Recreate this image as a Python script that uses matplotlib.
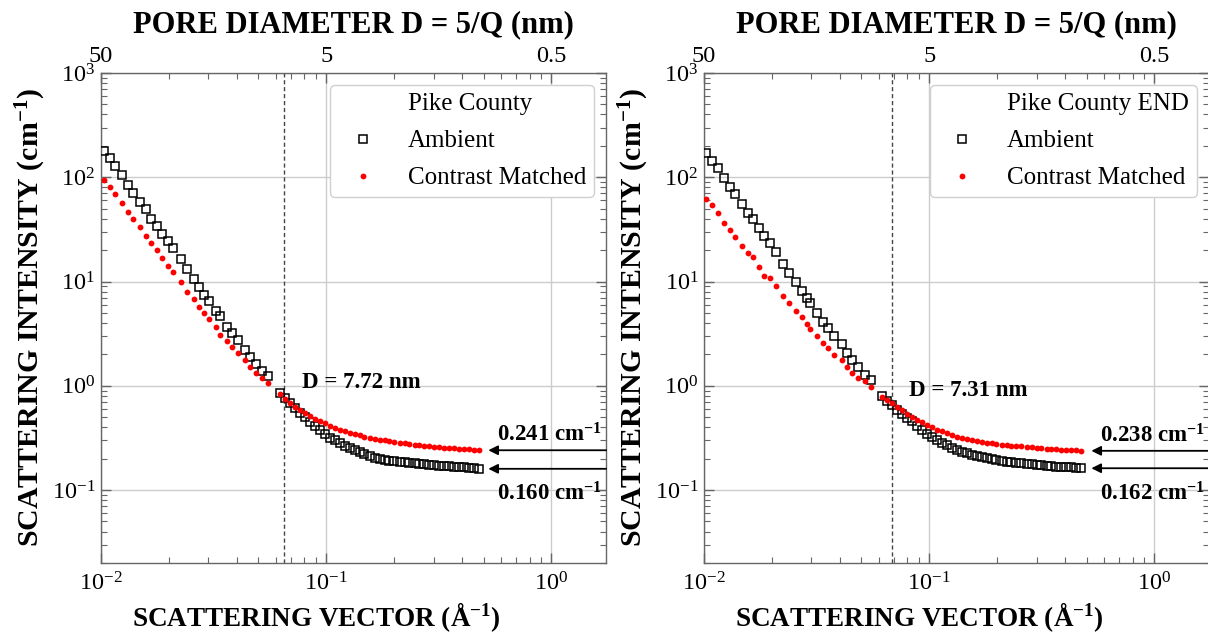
import matplotlib
matplotlib.use("Agg")
import matplotlib.pyplot as plt
from matplotlib.lines import Line2D

plt.rcParams.update({
    "font.family": "Liberation Serif",
    "mathtext.fontset": "custom",
    "mathtext.rm": "Liberation Serif",
    "mathtext.bf": "Liberation Serif:bold",
    "mathtext.it": "Liberation Serif:italic",
})

# ---------------- Pike County ----------------
q_pike = [
    0.01028, 0.0110, 0.01158, 0.0124, 0.01318, 0.01392, 0.01491, 0.0158, 0.01673, 0.01768,
    0.01867, 0.01985, 0.02089, 0.02275, 0.02418, 0.02582, 0.02726, 0.02869, 0.03029, 0.03245,
    0.03381, 0.03622, 0.03809, 0.04051, 0.04365, 0.04596, 0.04886, 0.05178, 0.05506,
    0.0625, 0.0658, 0.0692, 0.0728, 0.0766, 0.0806, 0.0848, 0.0892, 0.0939, 0.0988,
    0.104, 0.109, 0.115, 0.121, 0.127, 0.134, 0.141, 0.148, 0.156, 0.164,
    0.173, 0.182, 0.191, 0.201, 0.212, 0.223, 0.234, 0.247, 0.259, 0.273,
    0.287, 0.302, 0.318, 0.335, 0.352, 0.370, 0.390, 0.410, 0.431, 0.454, 0.478,
]
i_pike_ambient = [
    178.6, 154, 128, 104.5, 83.8, 71.4, 58.0, 49.1, 39.6, 34.2,
    28.5, 24.4, 20.8, 16.3, 13.2, 10.5, 8.92, 7.43, 6.55, 5.26,
    4.68, 3.65, 3.24, 2.76, 2.21, 1.91, 1.62, 1.40, 1.23,
    0.85, 0.76, 0.68, 0.61, 0.55, 0.50, 0.45, 0.41, 0.375, 0.345,
    0.318, 0.300, 0.283, 0.265, 0.252, 0.240, 0.230, 0.220, 0.212, 0.205,
    0.199, 0.195, 0.192, 0.189, 0.187, 0.184, 0.183, 0.181, 0.179, 0.177,
    0.175, 0.174, 0.172, 0.170, 0.169, 0.168, 0.166, 0.165, 0.164, 0.162, 0.160,
]
i_pike_cm = [
    95.1, 80.8, 69.8, 56.8, 46.6, 39.6, 33.0, 27.4, 23.2, 20.0,
    16.7, 14.1, 12.4, 9.96, 7.99, 6.76, 5.74, 4.96, 4.35, 3.65,
    3.08, 2.71, 2.38, 2.06, 1.77, 1.51, 1.34, 1.19, 1.06,
    0.83, 0.74, 0.69, 0.63, 0.59, 0.55, 0.515, 0.485, 0.46, 0.438,
    0.410, 0.395, 0.380, 0.366, 0.355, 0.344, 0.335, 0.326, 0.318, 0.311,
    0.304, 0.299, 0.294, 0.289, 0.285, 0.280, 0.276, 0.272, 0.269, 0.266,
    0.262, 0.260, 0.258, 0.255, 0.253, 0.251, 0.249, 0.248, 0.246, 0.244, 0.241,
]
d_pike = 7.72                    # nm, crossover pore diameter
plateau_pike = (0.241, 0.160)    # contrast matched, ambient (cm^-1)

# ---------------- Pike County END ----------------
q_end = [
    0.01021, 0.01089, 0.0115, 0.01227, 0.01305, 0.01374, 0.01471, 0.01574, 0.01656, 0.0175,
    0.01854, 0.01965, 0.02089, 0.0225, 0.02393, 0.02557, 0.02717, 0.0286, 0.0296, 0.0317,
    0.0339, 0.0357, 0.0379, 0.0409, 0.0431, 0.0456, 0.0485, 0.0519, 0.0552,
    0.0620, 0.0652, 0.0686, 0.0722, 0.0760, 0.0800, 0.0841, 0.0885, 0.0931, 0.0980,
    0.103, 0.108, 0.114, 0.120, 0.126, 0.133, 0.140, 0.147, 0.155, 0.163,
    0.171, 0.180, 0.190, 0.199, 0.210, 0.221, 0.232, 0.244, 0.257, 0.271,
    0.285, 0.300, 0.315, 0.332, 0.349, 0.367, 0.386, 0.406, 0.428, 0.450, 0.474,
]
i_end_ambient = [
    172, 143, 123, 99.3, 80.7, 68.8, 56.0, 45.5, 39.4, 32.3,
    27.2, 23.2, 19.3, 14.7, 12.0, 9.83, 8.16, 6.91, 6.19, 4.96,
    4.12, 3.57, 3.01, 2.52, 2.08, 1.77, 1.53, 1.27, 1.14,
    0.80, 0.72, 0.66, 0.58, 0.535, 0.49, 0.455, 0.41, 0.375, 0.345,
    0.32, 0.30, 0.283, 0.268, 0.254, 0.242, 0.233, 0.225, 0.218, 0.212,
    0.207, 0.202, 0.198, 0.194, 0.190, 0.187, 0.185, 0.182, 0.180, 0.178,
    0.176, 0.175, 0.173, 0.171, 0.170, 0.168, 0.167, 0.166, 0.165, 0.164, 0.162,
]
i_end_cm = [
    62.5, 54.0, 45.0, 36.5, 31.1, 26.8, 22.0, 18.6, 17.1, 13.7,
    11.3, 10.7, 9.12, 7.31, 6.18, 5.22, 4.60, 3.92, 3.49, 3.01,
    2.60, 2.29, 1.98, 1.75, 1.53, 1.34, 1.20, 1.10, 0.97,
    0.78, 0.73, 0.69, 0.63, 0.58, 0.54, 0.50, 0.47, 0.445, 0.425,
    0.40, 0.38, 0.365, 0.350, 0.337, 0.325, 0.316, 0.308, 0.301, 0.295,
    0.290, 0.285, 0.281, 0.277, 0.273, 0.270, 0.267, 0.264, 0.262, 0.259,
    0.257, 0.255, 0.253, 0.250, 0.248, 0.246, 0.245, 0.243, 0.241, 0.240, 0.238,
]
d_end = 7.31
plateau_end = (0.238, 0.162)

top_ticks_q = [0.01, 0.1, 1.0]
top_tick_labels = ["50", "5", "0.5"]

XLIM = (0.01, 1.75)
YLIM = (0.02, 1000)
SPINE = "#666666"
GRID = "#cccccc"
SQ_MS, DOT_MS = 5.8, 4.2

fig = plt.figure(figsize=(12.08, 6.38), dpi=100)
ax_l = fig.add_axes([0.0836, 0.1176, 0.4181, 0.768])
ax_r = fig.add_axes([0.5828, 0.1176, 0.4181, 0.768])


def style_axes(ax):
    ax.set_xscale("log")
    ax.set_yscale("log")
    ax.set_xlim(*XLIM)
    ax.set_ylim(*YLIM)
    ax.grid(True, which="major", color=GRID, lw=1.0)
    ax.set_axisbelow(True)
    for s in ax.spines.values():
        s.set_color(SPINE)
        s.set_linewidth(1.0)
    ax.tick_params(which="both", direction="in", colors=SPINE, labelcolor="black",
                   right=True, top=False, labelsize=17.5)
    ax.tick_params(which="major", length=7, width=1.0)
    ax.tick_params(which="minor", length=4, width=0.8)
    ax.tick_params(axis="x", pad=7)
    ax.tick_params(axis="y", pad=4)

    top = ax.twiny()
    top.set_xscale("log")
    top.set_xlim(*XLIM)
    top.set_xticks(top_ticks_q)
    top.set_xticklabels(top_tick_labels)
    top.tick_params(which="both", direction="in", colors=SPINE, labelcolor="black",
                    labelsize=17.5, pad=4)
    top.tick_params(which="major", length=7, width=1.0)
    top.tick_params(which="minor", length=4, width=0.8)
    for s in top.spines.values():
        s.set_visible(False)
    top.set_xlabel("PORE DIAMETER D = 5/Q (nm)", fontsize=22, fontweight="bold",
                   labelpad=10)

    ax.set_xlabel(r"SCATTERING VECTOR (Å$^{\mathbf{-1}}$)", fontsize=19.5,
                  fontweight="bold")
    ax.xaxis.set_label_coords(0.427, -0.076)
    ax.set_ylabel(r"SCATTERING INTENSITY (cm$^{\mathbf{-1}}$)", fontsize=21.5,
                  fontweight="bold", labelpad=3)


def draw_panel(ax, q, amb, cm, title, d_nm, plateaus, d_text_xy):
    style_axes(ax)
    ax.plot(q, amb, ls="none", marker="s", ms=SQ_MS, mfc="none", mec="black", mew=1.1, zorder=3)
    ax.plot(q, cm, ls="none", marker="o", ms=DOT_MS, mfc="red", mec="red", mew=0, zorder=4)

    # D = 5/Q with D in nm and Q in inverse angstrom -> Q = 0.5 / D
    q_cross = 0.5 / d_nm
    ax.axvline(q_cross, color="#444444", lw=1.0, ls=(0, (3, 2)), zorder=2)

    ax.text(d_text_xy[0], d_text_xy[1], f"D = {d_nm:.2f} nm",
            fontsize=16.5, fontweight="bold", ha="left", va="baseline", zorder=5)

    cm_level, amb_level = plateaus
    for level, above in ((cm_level, True), (amb_level, False)):
        ax.annotate("", xy=(0.525, level), xycoords="data",
                    xytext=(1.0, level), textcoords=("axes fraction", "data"),
                    arrowprops=dict(arrowstyle="-|>", color="black", lw=1.3,
                                    mutation_scale=14, shrinkA=0, shrinkB=0),
                    zorder=5, annotation_clip=False)
        ax.annotate(f"{level:.3f} cm" + r"$^{\mathbf{-1}}$", xy=(0.575, level),
                    xytext=(0, 6 if above else -23), textcoords="offset points",
                    fontsize=16.5, fontweight="bold", ha="left",
                    va="baseline", zorder=5, annotation_clip=False)

    handles = [
        Line2D([], [], ls="none", marker=None),
        Line2D([], [], ls="none", marker="s", ms=SQ_MS, mfc="none", mec="black", mew=1.1),
        Line2D([], [], ls="none", marker="o", ms=DOT_MS, mfc="red", mec="red", mew=0),
    ]
    leg = ax.legend(handles, [title, "Ambient", "Contrast Matched"], loc="upper right",
                    fontsize=18, frameon=True, fancybox=True, framealpha=1.0,
                    edgecolor="#d0d0d0", borderpad=0.3, borderaxespad=0.5,
                    handlelength=2.0, handletextpad=0.8, labelspacing=0.58)
    leg.get_frame().set_linewidth(1.0)
    leg.set_zorder(6)


draw_panel(ax_l, q_pike, i_pike_ambient, i_pike_cm, "Pike County", d_pike,
           plateau_pike, (0.078, 0.957))
draw_panel(ax_r, q_end, i_end_ambient, i_end_cm, "Pike County END", d_end,
           plateau_end, (0.081, 0.79))

fig.savefig("out.png", dpi=100)
